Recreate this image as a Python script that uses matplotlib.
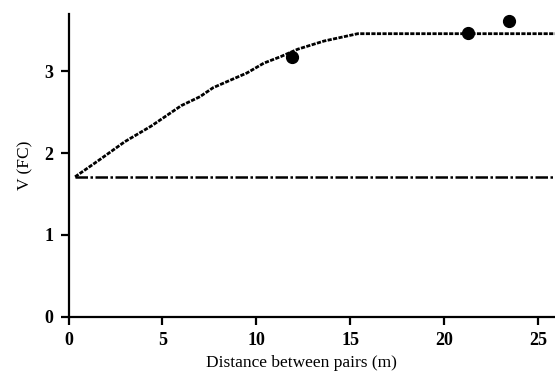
import matplotlib
matplotlib.use("Agg")
import matplotlib.pyplot as plt

# Fitted variogram-style curve
curve_x = [0.35, 1.6, 3.0, 4.4, 6.0, 7.0, 7.7, 9.5, 10.4, 11.3, 12.2, 13.6, 15.4, 25.9]
curve_y = [1.71, 1.91, 2.14, 2.33, 2.58, 2.69, 2.80, 2.98, 3.10, 3.18, 3.27, 3.37, 3.46, 3.46]

# Observed values
obs_x = [11.9, 21.25, 23.45]
obs_y = [3.17, 3.47, 3.62]

# Reference (nugget) level
base_level = 1.71
base_x = [0.35, 25.9]

x_ticks = [0, 5, 10, 15, 20, 25]
y_ticks = [0, 1, 2, 3]

plt.rcParams["font.family"] = ["Liberation Serif", "DejaVu Serif"]

fig = plt.figure(figsize=(5.55, 3.75), dpi=100)
ax = fig.add_axes([68.5 / 555, 0.1555, 1 - 68.5 / 555, 0.807])

ax.plot(curve_x, curve_y, color="black", lw=2.0, linestyle=(0, (1.5, 0.5)))
ax.plot(base_x, [base_level, base_level], color="black", lw=1.8,
        linestyle=(0, (5, 1.0, 1, 1.0)))
ax.plot(obs_x, obs_y, "o", color="black", ms=8.5, clip_on=False)

ax.set_xlim(0, 25.9)
ax.set_ylim(0, 3.7)
ax.set_xticks(x_ticks)
ax.set_yticks(y_ticks)

for side in ("top", "right"):
    ax.spines[side].set_visible(False)
for side in ("left", "bottom"):
    ax.spines[side].set_linewidth(1.6)

ax.tick_params(direction="out", length=6, width=1.6, labelsize=13, pad=5)
for lab in ax.get_xticklabels() + ax.get_yticklabels():
    lab.set_fontweight("bold")

ax.set_xlabel("Distance between pairs (m)", fontsize=12.5)
ax.xaxis.set_label_coords(0.478, -0.125)
ax.set_ylabel("V (FC)", fontsize=12.5, labelpad=8)

fig.savefig("out.png", dpi=100)
